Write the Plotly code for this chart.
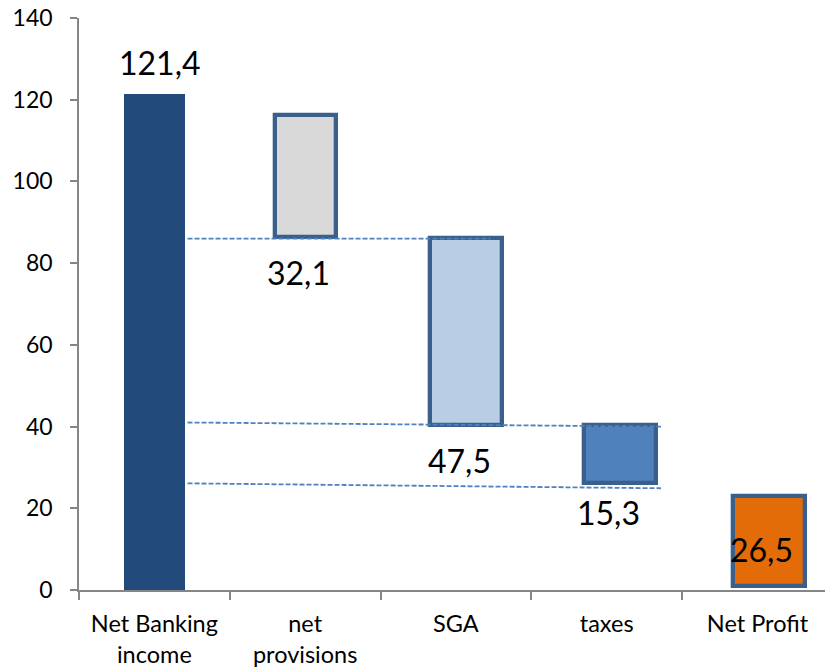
import plotly.graph_objects as go

# ---- data ----
categories = ["Net Banking<br>income", "net<br>provisions", "SGA", "taxes", "Net Profit"]
bar_base = [0, 86.5, 40.3, 26.2, 1.0]
bar_top = [121.4, 116.2, 86.2, 40.4, 23.1]
value_labels = ["121,4", "32,1", "47,5", "15,3", "26,5"]
connector_start = [86.0, 41.0, 26.1]
connector_end = [86.0, 40.0, 24.9]
y_ticks = [0, 20, 40, 60, 80, 100, 120, 140]

# ---- styling / positions ----
fill_colors = ["#224A7B", "#D9D9D9", "#B9CDE5", "#4F81BD", "#E36C09"]
border_color = "#3A5F8B"
border_widths = [0, 4.3, 4.3, 4.3, 4.3]
bar_offsets = [-0.204, -0.199, -0.172, -0.153, -0.165]
bar_widths = [0.407, 0.404, 0.480, 0.478, 0.480]
label_x = [0.04, 0.955, 2.024, 3.015, 4.03]
label_y = [129.0, 77.6, 31.6, 18.9, 9.8]
connector_x0 = [0.22, 0.22, 0.22]
connector_x1 = [2.23, 3.36, 3.36]

FONT = "Lato, Calibri, Carlito, sans-serif"

fig = go.Figure()
fig.add_trace(go.Bar(
    x=categories,
    y=[t - b for t, b in zip(bar_top, bar_base)],
    base=bar_base,
    offset=bar_offsets,
    width=bar_widths,
    marker=dict(color=fill_colors,
                line=dict(color=border_color, width=border_widths)),
    hoverinfo="skip",
    showlegend=False,
))

shapes = []
for x0, x1, y0, y1 in zip(connector_x0, connector_x1, connector_start, connector_end):
    shapes.append(dict(type="line", xref="x", yref="y", x0=x0, x1=x1, y0=y0, y1=y1,
                       line=dict(color="#4F81BD", width=1.8, dash="5px,2px"), layer="above"))

annotations = []
for txt, xx, yy in zip(value_labels, label_x, label_y):
    annotations.append(dict(x=xx, y=yy, xref="x", yref="y", text=txt, showarrow=False,
                            font=dict(family=FONT, size=32, color="#000000"),
                            xanchor="center", yanchor="middle"))

fig.update_layout(
    width=825, height=671,
    margin=dict(l=79, r=0, t=18, b=81),
    paper_bgcolor="white", plot_bgcolor="white",
    font=dict(family=FONT, color="#000000"),
    shapes=shapes,
    annotations=annotations,
    bargap=0,
    xaxis=dict(
        type="category",
        range=[-0.5, 4.448],
        showgrid=False, zeroline=False,
        showline=True, linecolor="#868686", linewidth=1.5,
        ticks="outside", tickson="boundaries", ticklen=8, tickcolor="#868686", tickwidth=1.5,
        tickfont=dict(family=FONT, size=23.5, color="#000000"),
        ticklabelstandoff=12,
    ),
    yaxis=dict(
        range=[0, 140],
        tickvals=y_ticks,
        showgrid=False, zeroline=False,
        showline=True, linecolor="#868686", linewidth=1.5,
        ticks="outside", ticklen=7, tickcolor="#868686", tickwidth=1.5,
        tickfont=dict(family=FONT, size=23, color="#000000"),
        ticklabelstandoff=13,
    ),
)

fig.write_html("out.html")
